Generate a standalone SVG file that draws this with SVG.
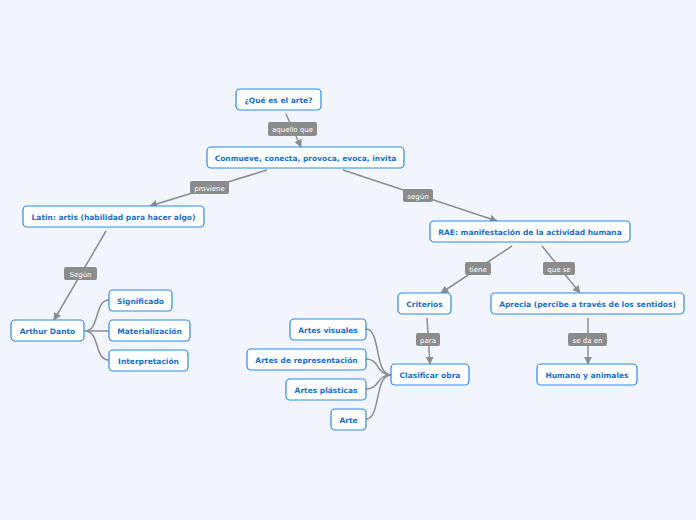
<svg xmlns="http://www.w3.org/2000/svg" width="696" height="520" viewBox="0 0 696 520">
<style>
.n rect{fill:#fff;stroke:#2a8ae6;stroke-width:1.2}
.n text{font-family:"DejaVu Sans",Verdana,sans-serif;font-weight:bold;font-size:7.5px;fill:#1a6fcc;text-anchor:middle}
.c path,.c line{stroke:#8c8c8c;stroke-width:1.5;fill:none}
.l rect{fill:#8c8c8c}
.l text{font-family:"DejaVu Sans",Verdana,sans-serif;font-size:7px;fill:#fff;text-anchor:middle}
</style>
<defs>
<marker id="a" viewBox="0 0 10 10" refX="9" refY="5" markerWidth="8" markerHeight="8" markerUnits="userSpaceOnUse" orient="auto">
<path d="M0,0L10,5L0,10z" fill="#8c8c8c"/>
</marker>
</defs>
<rect width="696" height="520" fill="#f2f5fe"/>
<g class="c" id="connectors">
<line x1="286" y1="114" x2="301" y2="147" marker-end="url(#a)"/>
<line x1="267" y1="170" x2="150" y2="206" marker-end="url(#a)"/>
<line x1="343" y1="170" x2="497" y2="221" marker-end="url(#a)"/>
<line x1="106" y1="231" x2="54" y2="320" marker-end="url(#a)"/>
<line x1="512" y1="246" x2="441" y2="293" marker-end="url(#a)"/>
<line x1="542" y1="246" x2="580" y2="293" marker-end="url(#a)"/>
<line x1="427" y1="318" x2="430" y2="364" marker-end="url(#a)"/>
<line x1="588" y1="318" x2="588" y2="364" marker-end="url(#a)"/>
<path d="M85,331 C100,331 94,300 109,300"/>
<path d="M85,331 L109,331"/>
<path d="M85,331 C100,331 94,360 109,360"/>
<path d="M391,375 C374,375 381,329 366,329"/>
<path d="M391,375 C376,375 380,359 366,359"/>
<path d="M391,375 C376,375 380,389 366,389"/>
<path d="M391,375 C374,375 381,419 366,419"/>
</g>
<g class="l">
<rect x="268" y="122" width="49" height="14" rx="2"/><text x="292.5" y="132">aquello que</text>
<rect x="190" y="181" width="39" height="13" rx="2"/><text x="209.5" y="190.5">proviene</text>
<rect x="403" y="189" width="30" height="13" rx="2"/><text x="418" y="198.5">según</text>
<rect x="64" y="267" width="33" height="13" rx="2"/><text x="80.5" y="276.5">Según</text>
<rect x="465" y="262" width="26" height="13" rx="2"/><text x="478" y="271.5">tiene</text>
<rect x="543" y="262" width="32" height="13" rx="2"/><text x="559" y="271.5">que se</text>
<rect x="416" y="333" width="24" height="13" rx="2"/><text x="428" y="342.5">para</text>
<rect x="568" y="333" width="39" height="13" rx="2"/><text x="587.5" y="342.5">se da en</text>
</g>
<g class="n" id="n1"><rect x="236" y="89" width="85" height="21" rx="4"/><text x="278.5" y="102.5">¿Qué es el arte?</text></g>
<g class="n" id="n2"><rect x="207" y="147" width="197" height="21" rx="4"/><text x="305.5" y="160.5">Conmueve, conecta, provoca, evoca, invita</text></g>
<g class="n" id="n3"><rect x="23" y="206" width="181" height="21" rx="4"/><text x="113.5" y="219.5">Latin: artis (habilidad para hacer algo)</text></g>
<g class="n" id="n4"><rect x="430" y="221" width="200" height="21" rx="4"/><text x="530" y="234.5">RAE: manifestación de la actividad humana</text></g>
<g class="n" id="n5"><rect x="11" y="320" width="73" height="21" rx="4"/><text x="47.5" y="333.5">Arthur Danto</text></g>
<g class="n" id="n6"><rect x="109" y="290" width="63" height="21" rx="4"/><text x="140.5" y="303.5">Significado</text></g>
<g class="n" id="n7"><rect x="109" y="320" width="81" height="21" rx="4"/><text x="149.5" y="333.5">Materialización</text></g>
<g class="n" id="n8"><rect x="109" y="350" width="79" height="21" rx="4"/><text x="148.5" y="363.5">Interpretación</text></g>
<g class="n" id="n9"><rect x="398" y="293" width="53" height="21" rx="4"/><text x="424.5" y="306.5">Criterios</text></g>
<g class="n" id="n10"><rect x="491" y="293" width="193" height="21" rx="4"/><text x="587.5" y="306.5">Aprecia (percibe a través de los sentidos)</text></g>
<g class="n" id="n11"><rect x="391" y="364" width="78" height="21" rx="4"/><text x="430" y="377.5">Clasificar obra</text></g>
<g class="n" id="n12"><rect x="290" y="319" width="76" height="21" rx="4"/><text x="328" y="332.5">Artes visuales</text></g>
<g class="n" id="n13"><rect x="247" y="349" width="119" height="21" rx="4"/><text x="306.5" y="362.5">Artes de representación</text></g>
<g class="n" id="n14"><rect x="286" y="379" width="80" height="21" rx="4"/><text x="326" y="392.5">Artes plásticas</text></g>
<g class="n" id="n15"><rect x="331" y="409" width="35" height="21" rx="4"/><text x="348.5" y="422.5">Arte</text></g>
<g class="n" id="n16"><rect x="537" y="364" width="100" height="21" rx="4"/><text x="587" y="377.5">Humano y animales</text></g>
</svg>
